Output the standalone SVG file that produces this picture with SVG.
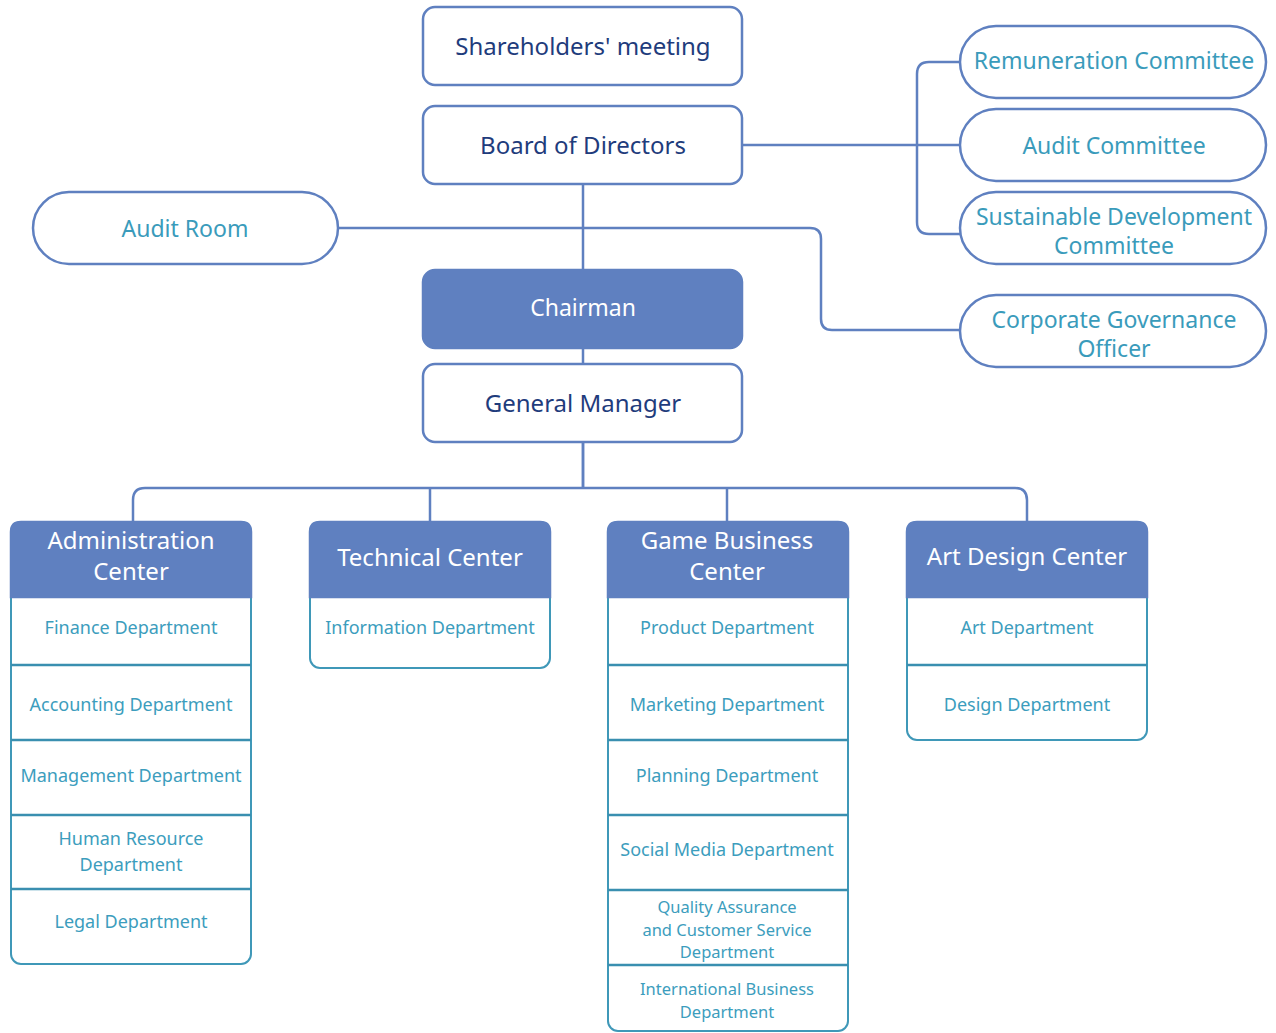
<svg xmlns="http://www.w3.org/2000/svg" width="1276" height="1033" viewBox="0 0 1276 1033">
<style>
.box{fill:#fff;stroke:#5f80c0;stroke-width:2.5}
.fillbox{fill:#5f80c0;stroke:#5f80c0;stroke-width:2.5}
.pill{fill:#fff;stroke:#5f80c0;stroke-width:2.5}
.conn{fill:none;stroke:#5f80c0;stroke-width:2.5}
.center{fill:#fff;stroke:#3f98b8;stroke-width:2}
.sep{stroke:#3a8fb0;stroke-width:2.5}
.t{font-family:"Noto Sans","Open Sans",sans-serif;text-anchor:middle}
.top{font-size:24px;fill:#1f3c7c}
.wh{font-size:23px;fill:#fff}
.com{font-size:23px;fill:#3a9bbb}
.hd{font-size:24px;fill:#fff}
.row{font-size:18px;fill:#3c9dbd}
.sm{font-size:16.5px}
</style>
<g id="connectors">
<path class="conn" d="M583 184 V488"/>
<path class="conn" d="M583 442 V488"/>
<path class="conn" d="M742 145 H960"/>
<path class="conn" d="M960 62 H929 Q917 62 917 74 V222 Q917 234 929 234 H960"/>
<path class="conn" d="M338 228 H810 Q821 228 821 239 V319 Q821 330 832 330 H960"/>
<path class="conn" d="M133 522 V500 Q133 488 145 488 H1015 Q1027 488 1027 500 V522"/>
<path class="conn" d="M430 488 V522"/>
<path class="conn" d="M727 488 V522"/>
</g>
<g id="shareholders"><rect class="box" x="423" y="7" width="319" height="78" rx="12"/><text class="t top" x="583" y="55">Shareholders' meeting</text></g>
<g id="board"><rect class="box" x="423" y="106" width="319" height="78" rx="12"/><text class="t top" x="583" y="154">Board of Directors</text></g>
<g id="chairman"><rect class="fillbox" x="423" y="270" width="319" height="78" rx="12"/><text class="t wh" x="583" y="316">Chairman</text></g>
<g id="gm"><rect class="box" x="423" y="364" width="319" height="78" rx="12"/><text class="t top" x="583" y="412">General Manager</text></g>
<g id="auditroom"><rect class="pill" x="33" y="192" width="305" height="72" rx="36"/><text class="t com" x="185" y="237">Audit Room</text></g>
<g id="remuneration"><rect class="pill" x="960" y="26" width="306" height="72" rx="36"/><text class="t com" x="1114" y="69">Remuneration Committee</text></g>
<g id="auditcommittee"><rect class="pill" x="960" y="109" width="306" height="72" rx="36"/><text class="t com" x="1114" y="154">Audit Committee</text></g>
<g id="sustainable"><rect class="pill" x="960" y="192" width="306" height="72" rx="36"/><text class="t com" x="1114" y="225">Sustainable Development<tspan x="1114" dy="29">Committee</tspan></text></g>
<g id="cgo"><rect class="pill" x="960" y="295" width="306" height="72" rx="36"/><text class="t com" x="1114" y="328">Corporate Governance<tspan x="1114" dy="29">Officer</tspan></text></g>

<g id="admin">
<rect class="center" x="11" y="522" width="240" height="442" rx="10"/>
<path class="fillbox" d="M11 597 V532 Q11 522 21 522 H241 Q251 522 251 532 V597 Z"/>
<line class="sep" x1="11" y1="665" x2="251" y2="665"/>
<line class="sep" x1="11" y1="740" x2="251" y2="740"/>
<line class="sep" x1="11" y1="815" x2="251" y2="815"/>
<line class="sep" x1="11" y1="889" x2="251" y2="889"/>
<text class="t hd" x="131" y="549">Administration<tspan x="131" dy="31">Center</tspan></text>
<text class="t row" x="131" y="634">Finance Department</text>
<text class="t row" x="131" y="711">Accounting Department</text>
<text class="t row" x="131" y="782">Management Department</text>
<text class="t row" x="131" y="845">Human Resource<tspan x="131" dy="26">Department</tspan></text>
<text class="t row" x="131" y="928">Legal Department</text>
</g>
<g id="technical">
<rect class="center" x="310" y="522" width="240" height="146" rx="10"/>
<path class="fillbox" d="M310 597 V532 Q310 522 320 522 H540 Q550 522 550 532 V597 Z"/>
<text class="t hd" x="430" y="566">Technical Center</text>
<text class="t row" x="430" y="634">Information Department</text>
</g>
<g id="game">
<rect class="center" x="608" y="522" width="240" height="509" rx="10"/>
<path class="fillbox" d="M608 597 V532 Q608 522 618 522 H838 Q848 522 848 532 V597 Z"/>
<line class="sep" x1="608" y1="665" x2="848" y2="665"/>
<line class="sep" x1="608" y1="740" x2="848" y2="740"/>
<line class="sep" x1="608" y1="815" x2="848" y2="815"/>
<line class="sep" x1="608" y1="890" x2="848" y2="890"/>
<line class="sep" x1="608" y1="965" x2="848" y2="965"/>
<text class="t hd" x="727" y="549">Game Business<tspan x="727" dy="31">Center</tspan></text>
<text class="t row" x="727" y="634">Product Department</text>
<text class="t row" x="727" y="711">Marketing Department</text>
<text class="t row" x="727" y="782">Planning Department</text>
<text class="t row" x="727" y="856">Social Media Department</text>
<text class="t row sm" x="727" y="913">Quality Assurance<tspan x="727" dy="22.5">and Customer Service</tspan><tspan x="727" dy="22.5">Department</tspan></text>
<text class="t row sm" x="727" y="995">International Business<tspan x="727" dy="22.5">Department</tspan></text>
</g>
<g id="art">
<rect class="center" x="907" y="522" width="240" height="218" rx="10"/>
<path class="fillbox" d="M907 597 V532 Q907 522 917 522 H1137 Q1147 522 1147 532 V597 Z"/>
<line class="sep" x1="907" y1="665" x2="1147" y2="665"/>
<text class="t hd" x="1027" y="565">Art Design Center</text>
<text class="t row" x="1027" y="634">Art Department</text>
<text class="t row" x="1027" y="711">Design Department</text>
</g>
</svg>
